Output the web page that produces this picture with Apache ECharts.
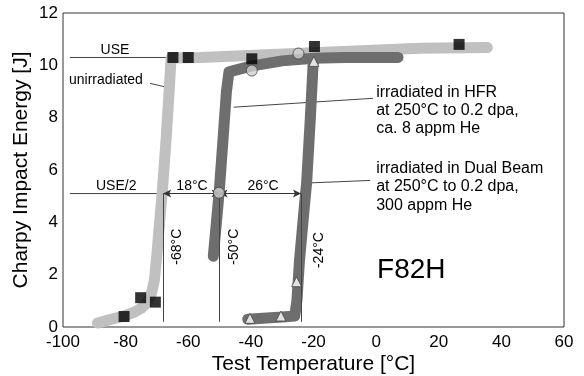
<!DOCTYPE html>
<html>
<head>
<meta charset="utf-8">
<script src="https://cdn.jsdelivr.net/npm/echarts@6/dist/echarts.min.js"></script>
<style>
  html, body { margin: 0; padding: 0; background: #fff; }
  #chart { width: 584px; height: 376px; }
</style>
</head>
<body>
<div id="chart"></div>
<script>
// measured points [temperature in °C, energy in J]
const unirrSquares = [[-80.5, 0.4], [-75.2, 1.12], [-70.5, 0.95], [-64.9, 10.3], [-60, 10.3], [-39.7, 10.25], [-19.7, 10.72], [26.5, 10.8]];
const hfrCircles = [[-50.2, 5.13], [-39.7, 9.8], [-24.8, 10.45]];
const dualTriangles = [[-40.3, 0.33], [-30.4, 0.42], [-25.4, 1.73], [-19.9, 10.15]];

// hand drawn transition bands
const unirrBand = [[-89, 0.15], [-85, 0.28], [-80.5, 0.42], [-77, 0.58], [-75, 0.72], [-73, 0.95], [-71.7, 1.3], [-70.8, 1.8],
  [-70, 2.8], [-69, 4.2], [-68.2, 5.3], [-67, 7.3], [-66, 9.2], [-65.5, 10.28], [-56, 10.3], [14, 10.65], [35.5, 10.68]];
const hfrBand = [[-52, 2.7], [-51, 4], [-50.1, 5.2], [-49, 7], [-47.8, 9], [-47, 9.75], [-40, 9.97], [-30, 10.17],
  [-20, 10.27], [-10, 10.3], [7, 10.3]];
const dualBand = [[-41, 0.3], [-30, 0.38], [-26, 0.42], [-25.3, 1], [-24.5, 2.5], [-23, 4.5], [-22.2, 5.5], [-21, 8],
  [-20.1, 10.1], [-19.5, 10.25]];

const useLevel = 10.3;
const halfUse = 5.1;
const dbtt = [-68, -50, -24];

const chart = echarts.init(document.getElementById('chart'));
const font = 'Liberation Sans, Arial, sans-serif';

function thinLine(data) {
  return {
    type: 'line', data: data, symbol: 'none', silent: true, z: 1,
    lineStyle: { color: '#444', width: 1 }
  };
}

function band(data, color) {
  return {
    type: 'line', data: data, symbol: 'none', silent: true, z: 2,
    lineStyle: { color: color, width: 11, cap: 'round', join: 'round' }
  };
}

let series = [
  thinLine([[-97.8, useLevel], [-66, useLevel]]),
  thinLine([[-97.8, halfUse], [dbtt[0], halfUse]]),
  thinLine([[-72.2, 9.31], [-66.8, 9.16]]),
  thinLine([[-45.5, 8.4], [-1, 8.74]]),
  thinLine([[-22.7, 5.5], [-1.9, 5.6]]),
  band(unirrBand, '#c0c0c0'),
  band(hfrBand, '#6e6e6e'),
  band(dualBand, '#6e6e6e'),
  {
    type: 'line', data: [], symbol: 'none', silent: true, z: 3,
    markLine: {
      silent: true, symbol: ['arrow', 'arrow'], symbolSize: [6, 8],
      lineStyle: { color: '#333', width: 1, type: 'solid' }, label: { show: false },
      data: [
        [{ coord: [dbtt[0], halfUse] }, { coord: [dbtt[1], halfUse] }],
        [{ coord: [dbtt[1], halfUse] }, { coord: [dbtt[2], halfUse] }]
      ]
    }
  },
  {
    type: 'line', data: [], symbol: 'none', silent: true, z: 1,
    markLine: {
      silent: true, symbol: ['none', 'none'],
      lineStyle: { color: '#444', width: 1, type: 'solid' }, label: { show: false },
      data: dbtt.map(t => [{ coord: [t, halfUse] }, { coord: [t, 0.2] }])
    }
  },
  {
    type: 'scatter', data: unirrSquares, symbol: 'rect', symbolSize: 11, z: 5,
    itemStyle: { color: '#000' }
  },
  {
    type: 'scatter', data: hfrCircles, symbol: 'circle', symbolSize: 11, z: 5,
    itemStyle: { color: '#d0d0d0', borderColor: '#444', borderWidth: 1 }
  },
  {
    type: 'scatter', data: dualTriangles, symbol: 'triangle', symbolSize: 10, z: 5,
    itemStyle: { color: '#fff', borderColor: '#444', borderWidth: 1 }
  }
];

chart.setOption({
  animation: false,
  grid: {
    left: 63, right: 20, top: 13, bottom: 49, outerBoundsMode: 'none',
    show: true, borderColor: '#333', borderWidth: 1
  },
  xAxis: {
    type: 'value', min: -100, max: 60, interval: 20,
    name: 'Test Temperature [°C]', nameLocation: 'middle', nameGap: 27, nameMoveOverlap: false,
    nameTextStyle: { fontSize: 21, color: '#000', fontFamily: font },
    axisLine: { show: false }, axisTick: { show: false }, splitLine: { show: false },
    axisLabel: { fontSize: 17, color: '#000', fontFamily: font, margin: 7 }
  },
  yAxis: {
    type: 'value', min: 0, max: 12, interval: 2,
    name: 'Charpy Impact Energy [J]', nameLocation: 'middle', nameGap: 31, nameMoveOverlap: false,
    nameTextStyle: { fontSize: 21, color: '#000', fontFamily: font },
    axisLine: { show: false }, axisTick: { show: false }, splitLine: { show: false },
    axisLabel: { fontSize: 17, color: '#000', fontFamily: font, margin: 5 }
  },
  series: series
});

// annotation texts, anchored in data coordinates
const notes = [
  { at: [-83.4, 10.57], text: 'USE', size: 14, align: 'center', va: 'middle' },
  { at: [-98.1, 9.43], text: 'unirradiated', size: 14, align: 'left', va: 'middle' },
  { at: [-83, 5.38], text: 'USE/2', size: 14, align: 'center', va: 'middle' },
  { at: [-58.8, 5.38], text: '18°C', size: 14, align: 'center', va: 'middle' },
  { at: [-36.1, 5.38], text: '26°C', size: 14, align: 'center', va: 'middle' },
  { at: [0, 9.31], text: 'irradiated in HFR\nat 250°C to 0.2 dpa,\nca. 8 appm He', size: 16, align: 'left', va: 'top', lh: 18 },
  { at: [0, 6.41], text: 'irradiated in Dual Beam\nat 250°C to 0.2 dpa,\n300 appm He', size: 16, align: 'left', va: 'top', lh: 18.5 },
  { at: [0.3, 2.18], text: 'F82H', size: 28, align: 'left', va: 'middle' },
  { at: [-63.6, 3.07], text: '-68°C', size: 14, align: 'center', va: 'middle', rot: true },
  { at: [-45.4, 3.07], text: '-50°C', size: 14, align: 'center', va: 'middle', rot: true },
  { at: [-18.2, 2.94], text: '-24°C', size: 14, align: 'center', va: 'middle', rot: true }
];

chart.setOption({
  graphic: notes.map(n => {
    const p = chart.convertToPixel({ gridIndex: 0 }, n.at);
    return {
      type: 'text', x: p[0], y: p[1], rotation: n.rot ? Math.PI / 2 : 0, z: 10, silent: true,
      style: {
        text: n.text, fill: '#000', font: n.size + 'px ' + font,
        textAlign: n.align, textVerticalAlign: n.va, lineHeight: n.lh || n.size
      }
    };
  })
});
</script>
</body>
</html>
